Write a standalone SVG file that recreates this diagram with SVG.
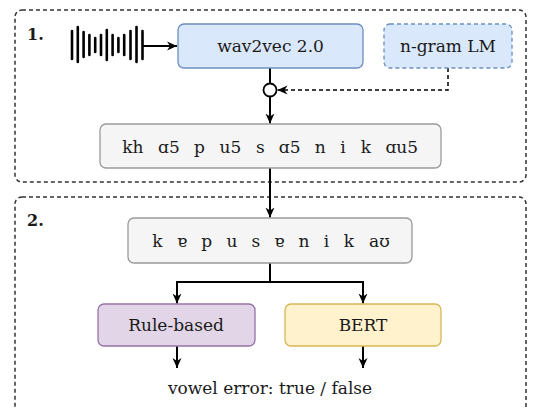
<svg xmlns="http://www.w3.org/2000/svg" width="534" height="408" viewBox="0 0 534 408">
<style>
text{font-family:"DejaVu Serif","Liberation Serif",serif;font-size:17px;fill:#1a1a1a}
.c{text-anchor:middle}
.lbl{font-weight:bold;font-size:16px}
.frame{fill:none;stroke:#333;stroke-width:1.5;stroke-dasharray:4 3}
.blue{fill:#dae8fc;stroke:#6c8ebf;stroke-width:1.3}
.grey{fill:#f5f5f5;stroke:#9a9a9a;stroke-width:1.3}
.purple{fill:#e1d5e7;stroke:#9673a6;stroke-width:1.3}
.yellow{fill:#fff2cc;stroke:#d6b656;stroke-width:1.3}
.ln{fill:none;stroke:#000;stroke-width:2}
.dl{fill:none;stroke:#000;stroke-width:1.5;stroke-dasharray:4 3}
.wave line{stroke:#000;stroke-width:2.6;stroke-linecap:round}
</style>
<defs>
<marker id="ar" viewBox="0 0 10 10" refX="10" refY="5" markerWidth="10" markerHeight="10" markerUnits="userSpaceOnUse" orient="auto">
<path d="M0,0.5 L10,5 L0,9.5 L3,5 z" fill="#000"/>
</marker>
</defs>

<g id="stage1">
<rect class="frame" x="15" y="10" width="511" height="172" rx="7"/>
<text class="lbl" x="27" y="40">1.</text>
</g>
<g id="stage2">
<rect class="frame" x="15" y="197" width="511" height="218" rx="7"/>
<text class="lbl" x="27" y="226">2.</text>
</g>

<g id="waveform" class="wave">
<line x1="72" y1="31" x2="72" y2="59"/>
<line x1="77.8" y1="27" x2="77.8" y2="62"/>
<line x1="83.6" y1="32" x2="83.6" y2="57"/>
<line x1="89.4" y1="35" x2="89.4" y2="55"/>
<line x1="95.2" y1="38" x2="95.2" y2="52"/>
<line x1="101" y1="35" x2="101" y2="55"/>
<line x1="106.8" y1="30" x2="106.8" y2="60"/>
<line x1="112.6" y1="35" x2="112.6" y2="55"/>
<line x1="118.4" y1="38" x2="118.4" y2="52"/>
<line x1="124.2" y1="35" x2="124.2" y2="55"/>
<line x1="130.5" y1="31" x2="130.5" y2="59"/>
<line x1="136.5" y1="27" x2="136.5" y2="62"/>
<line x1="142.5" y1="31" x2="142.5" y2="59"/>
</g>

<g id="connectors">
<line class="ln" x1="143" y1="46" x2="177" y2="46" marker-end="url(#ar)"/>
<line class="ln" x1="270" y1="68" x2="270" y2="83.5"/>
<line class="ln" x1="270" y1="96.5" x2="270" y2="123.5" marker-end="url(#ar)"/>
<polyline class="dl" points="448,68 448,90 277.5,90" marker-end="url(#ar)"/>
<line class="ln" x1="270" y1="168" x2="270" y2="217.5" marker-end="url(#ar)"/>
<line class="ln" x1="270" y1="263" x2="270" y2="282"/>
<polyline class="ln" points="177,282 363,282 363,303.5" marker-end="url(#ar)"/>
<line class="ln" x1="177" y1="281" x2="177" y2="303.5" marker-end="url(#ar)"/>
<line class="ln" x1="177" y1="346" x2="177" y2="368" marker-end="url(#ar)"/>
<line class="ln" x1="363" y1="346" x2="363" y2="368" marker-end="url(#ar)"/>
</g>

<g id="junction">
<circle cx="270" cy="90" r="6.5" fill="#fff" stroke="#000" stroke-width="1.8"/>
</g>

<g id="wav2vec">
<rect class="blue" x="178" y="24" width="185" height="44" rx="6"/>
<text class="c" x="270.5" y="52">wav2vec 2.0</text>
</g>
<g id="ngram">
<rect class="blue" x="384" y="24" width="128" height="44" rx="6" stroke-dasharray="4 3"/>
<text class="c" x="448" y="52">n-gram LM</text>
</g>

<g id="phones1">
<rect class="grey" x="100" y="124" width="341" height="44" rx="6"/>
<text class="c" y="153"><tspan x="132.9">kh</tspan><tspan x="168.9">ɑ5</tspan><tspan x="199.5">p</tspan><tspan x="230.4">u5</tspan><tspan x="260.3">s</tspan><tspan x="289.7">ɑ5</tspan><tspan x="320.3">n</tspan><tspan x="343">i</tspan><tspan x="365.8">k</tspan><tspan x="401.8">ɑu5</tspan></text>
</g>

<g id="phones2">
<rect class="grey" x="128" y="218" width="284" height="45" rx="6"/>
<text class="c" y="247"><tspan x="157.5">k</tspan><tspan x="182.1">ɐ</tspan><tspan x="206.8">p</tspan><tspan x="231.9">u</tspan><tspan x="255.9">s</tspan><tspan x="279.4">ɐ</tspan><tspan x="304">n</tspan><tspan x="326.4">i</tspan><tspan x="348.8">k</tspan><tspan x="379.4">aʊ</tspan></text>
</g>

<g id="rulebased">
<rect class="purple" x="98" y="304" width="157" height="42" rx="6"/>
<text class="c" x="176" y="331">Rule-based</text>
</g>
<g id="bert">
<rect class="yellow" x="285" y="304" width="156" height="42" rx="6"/>
<text class="c" x="363" y="331">BERT</text>
</g>

<g id="output">
<text class="c" x="270" y="394">vowel error: true / false</text>
</g>
</svg>
